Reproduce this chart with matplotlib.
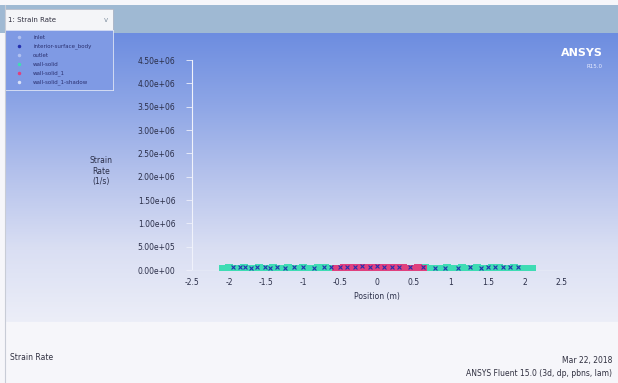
"""Recreate the Fluent XY plot of strain rate vs position."""
import numpy as np
import matplotlib.pyplot as plt
from matplotlib.colors import LinearSegmentedColormap

# ---- data ----
wall_x = [-2.08, -2.0, -1.9, -1.8, -1.7, -1.6, -1.5, -1.4, -1.3, -1.2, -1.1, -1.0,
          -0.9, -0.8, -0.7, -0.6, 0.65, 0.75, 0.85, 0.95, 1.05, 1.15, 1.25, 1.35,
          1.45, 1.55, 1.65, 1.75, 1.85, 1.95, 2.05, 2.1]
wall_y = [2.0e4, 3.5e4, 3.0e4, 4.0e4, 3.0e4, 3.5e4, 2.5e4, 4.0e4, 3.0e4, 3.5e4, 3.0e4,
          4.0e4, 3.0e4, 3.5e4, 4.0e4, 3.0e4, 3.5e4, 3.0e4, 2.5e4, 3.5e4, 3.0e4, 4.0e4,
          3.0e4, 3.5e4, 3.0e4, 4.0e4, 3.5e4, 3.0e4, 3.5e4, 3.0e4, 2.5e4, 2.0e4]

solid_x = [-0.55, -0.45, -0.35, -0.25, -0.15, -0.05, 0.05, 0.15, 0.25, 0.35, 0.45, 0.55, 0.62]
solid_y = [3.0e4, 3.5e4, 3.5e4, 4.0e4, 3.5e4, 4.0e4, 3.5e4, 4.0e4, 3.5e4, 3.5e4, 3.0e4, 3.5e4, 3.0e4]

interior_x = [-1.95, -1.85, -1.78, -1.7, -1.62, -1.52, -1.45, -1.35, -1.25, -1.12, -1.0,
              -0.85, -0.72, -0.62, -0.5, -0.4, -0.3, -0.2, -0.1, 0.0, 0.1, 0.2, 0.3,
              0.45, 0.62, 0.78, 0.92, 1.1, 1.25, 1.4, 1.5, 1.6, 1.7, 1.8, 1.9]
interior_y = [6.0e4, 5.5e4, 6.5e4, 5.0e4, 6.0e4, 5.5e4, 4.5e4, 6.5e4, 5.0e4, 5.5e4, 6.0e4,
              5.0e4, 6.5e4, 6.0e4, 6.5e4, 7.0e4, 6.5e4, 8.0e4, 7.5e4, 8.0e4, 7.0e4, 7.5e4,
              6.5e4, 6.0e4, 5.5e4, 5.0e4, 4.5e4, 5.0e4, 5.5e4, 5.0e4, 6.0e4, 5.5e4, 6.5e4,
              6.0e4, 5.5e4]

legend_names = ["inlet", "interior-surface_body", "outlet",
                "wall-solid", "wall-solid_1", "wall-solid_1-shadow"]
y_ticks = [0, 5e5, 1e6, 1.5e6, 2e6, 2.5e6, 3e6, 3.5e6, 4e6, 4.5e6]
y_ticklabels = ["0.00e+00", "5.00e+05", "1.00e+06", "1.50e+06", "2.00e+06",
                "2.50e+06", "3.00e+06", "3.50e+06", "4.00e+06", "4.50e+06"]
x_ticks = [-2.5, -2, -1.5, -1, -0.5, 0, 0.5, 1, 1.5, 2, 2.5]

W, H = 618, 383
fig = plt.figure(figsize=(W / 100, H / 100), dpi=100)
fig.patch.set_facecolor("#f6f6fa")


def box(x0, y0, x1, y1):
    """pixel box (top-left origin) -> figure rect"""
    return [x0 / W, 1 - y1 / H, (x1 - x0) / W, (y1 - y0) / H]


# toolbar strip
tb = fig.add_axes(box(0, 5, W, 33))
tb.set_facecolor("#9fb9d3")
tb.set_xticks([]); tb.set_yticks([])
for s in tb.spines.values():
    s.set_visible(False)

# gradient background of the graphics window
bg = fig.add_axes(box(5, 33, W, 322))
cmap = LinearSegmentedColormap.from_list(
    "fluent", ["#6d8de0", "#8ea6e6", "#b6c3ec", "#dadff3", "#eceef8"])
bg.imshow(np.linspace(0, 1, 256).reshape(-1, 1), aspect="auto", cmap=cmap,
          extent=[0, 1, 0, 1], origin="upper")
bg.set_axis_off()
bg.text(0.975, 0.93, "ANSYS", transform=bg.transAxes, ha="right", va="center",
        color="white", fontsize=8, fontweight="bold")
bg.text(0.975, 0.885, "R15.0", transform=bg.transAxes, ha="right", va="center",
        color="#e8ecff", fontsize=4)

# dropdown
dd = fig.add_axes(box(5, 9, 113, 30))
dd.set_facecolor("#f4f5f8")
dd.set_xticks([]); dd.set_yticks([])
for s in dd.spines.values():
    s.set_color("#b0b8c8"); s.set_linewidth(0.6)
dd.text(0.03, 0.5, "1: Strain Rate", transform=dd.transAxes, va="center",
        fontsize=5, color="#303040")
dd.text(0.93, 0.5, "v", transform=dd.transAxes, va="center", ha="center",
        fontsize=5, color="#8090a0")

# main axes
ax = fig.add_axes(box(192, 60, 562, 270))
ax.patch.set_alpha(0)
ax.scatter(wall_x, wall_y, s=30, marker="s", color="#3fdcb4", linewidths=0,
           label=legend_names[3], zorder=3)
ax.scatter(solid_x, solid_y, s=30, marker="s", color="#e0407e", linewidths=0,
           label=legend_names[4], zorder=4)
ax.scatter(interior_x, interior_y, s=8, marker="x", color="#2430b0", linewidths=0.8,
           label=legend_names[1], zorder=5)
ax.set_xlim(-2.5, 2.5)
ax.set_ylim(0, 4.5e6)
ax.set_xticks(x_ticks)
ax.set_xticklabels([f"{t:g}" for t in x_ticks])
ax.set_yticks(y_ticks)
ax.set_yticklabels(y_ticklabels)
ax.tick_params(axis="both", labelsize=5.5, colors="#eef0fa", labelcolor="#2a2e48",
               length=4, width=0.6)
ax.tick_params(axis="y", direction="out", pad=8)
ax.tick_params(axis="x", length=0, pad=6)
for side in ["top", "right"]:
    ax.spines[side].set_visible(False)
ax.spines["left"].set_color("#f0f2fb")
ax.spines["bottom"].set_color("#e4e8f6")
ax.spines["left"].set_linewidth(0.8)
ax.spines["bottom"].set_linewidth(0.6)
ax.set_xlabel("Position (m)", fontsize=5.5, color="#2a2e48", labelpad=3)
ax.set_ylabel("Strain\nRate\n(1/s)", fontsize=5.5, color="#2a2e48", rotation=0,
              ha="center", va="center", labelpad=1)
ax.yaxis.set_label_coords(-0.245, 0.47)

# legend list at top left
leg = fig.add_axes(box(5, 30, 113, 90))
leg.set_facecolor("#7f9ae4")
leg.set_xticks([]); leg.set_yticks([])
for s in leg.spines.values():
    s.set_color("#dfe5f5"); s.set_linewidth(0.6)
leg_colors = ["#b0c0f0", "#2430b0", "#b0c0f0", "#3fdcb4", "#e0407e", "#d8e0f8"]
for i, (name, c) in enumerate(zip(legend_names, leg_colors)):
    yy = 0.88 - i * 0.15
    leg.plot([0.13], [yy], marker=".", color=c, markersize=3, transform=leg.transAxes)
    leg.text(0.26, yy, name, transform=leg.transAxes, va="center", fontsize=4,
             color="#2a3070")

# bottom status text
fig.text(10 / W, 1 - 357 / H, "Strain Rate", fontsize=5.5, color="#303040", va="center")
fig.text(612 / W, 1 - 360 / H, "Mar 22, 2018", fontsize=5.5, color="#303040",
         va="center", ha="right")
fig.text(612 / W, 1 - 373 / H, "ANSYS Fluent 15.0 (3d, dp, pbns, lam)", fontsize=5.5,
         color="#303040", va="center", ha="right")
fig.add_artist(plt.Line2D([5 / W, 5 / W], [0, 1 - 5 / H], color="#c8ccd6", lw=0.8))

fig.savefig("out.png", dpi=100)
